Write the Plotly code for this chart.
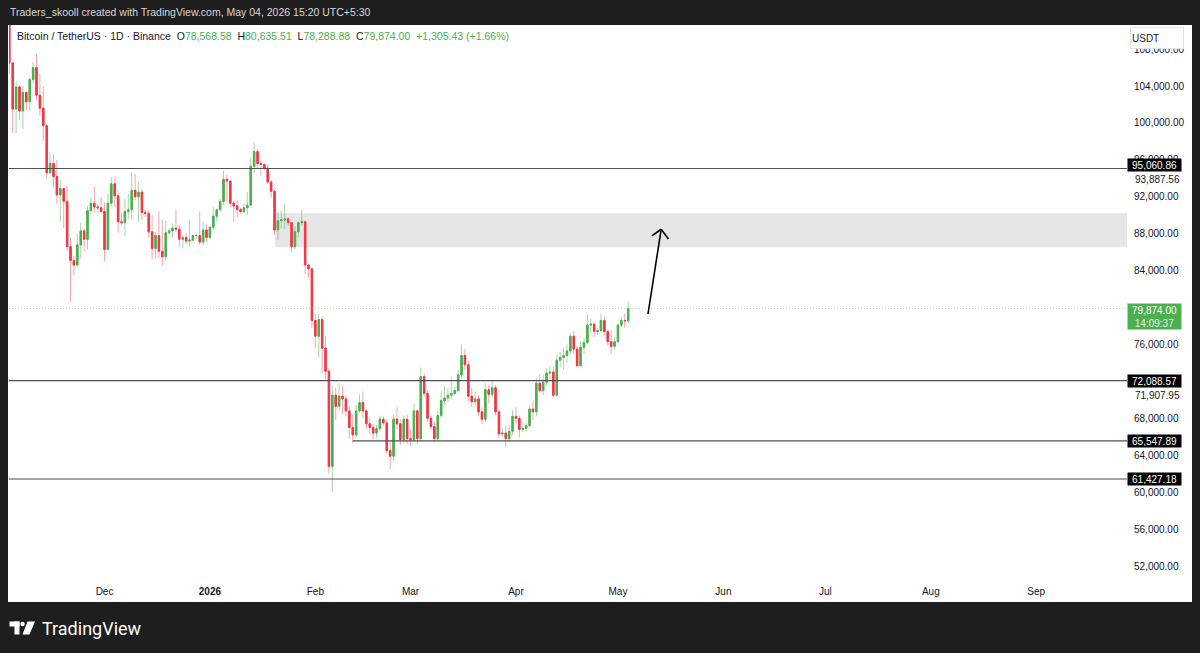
import plotly.graph_objects as go
import pandas as pd

# ---------------- data (BTC/USDT daily, values in thousands of USDT) ----------------
START_DATE = "2025-11-03"
FIRST_OPEN_K = 110.6

CLOSE_K = [
    # Nov 3 - Nov 30
    106.5, 101.5, 103.9, 101.3, 103.3, 102.3, 104.7, 106.0, 103.0, 101.6, 99.7, 94.6, 95.6, 94.2,
    92.2, 92.9, 91.5, 86.6, 85.1, 84.6, 86.8, 88.3, 87.4, 90.5, 91.3, 90.9, 90.8, 90.4,
    # Dec
    86.3, 91.3, 93.4, 92.1, 89.3, 89.2, 90.4, 90.6, 92.7, 92.0, 92.5, 90.3, 90.2, 88.2, 86.4, 87.8,
    86.1, 85.5, 88.1, 88.3, 88.6, 88.5, 87.4, 87.6, 87.2, 87.3, 87.8, 87.8, 87.1, 88.4, 87.6,
    # Jan
    88.7, 89.9, 90.6, 91.5, 93.9, 93.7, 91.3, 91.0, 90.6, 90.4, 90.8, 91.1, 95.3, 96.9, 95.6, 95.5,
    95.1, 93.6, 92.6, 88.4, 89.4, 89.5, 89.6, 89.2, 86.6, 88.2, 89.2, 89.3, 84.6, 84.2, 78.6,
    # Feb
    76.9, 78.7, 75.6, 73.1, 62.8, 70.5, 69.3, 70.4, 70.1, 68.8, 67.0, 66.2, 68.8, 69.7,
    68.8, 67.4, 67.0, 66.4, 66.9, 67.9, 67.5, 64.5, 63.9, 67.9, 67.4, 65.7, 67.9, 65.8,
    # Mar
    65.7, 68.8, 65.8, 72.5, 70.7, 68.0, 67.1, 65.8, 68.3, 69.9, 70.2, 70.5, 70.7, 71.0, 72.7, 74.8,
    73.8, 70.4, 69.8, 70.1, 68.7, 67.9, 71.1, 70.6, 71.3, 68.7, 66.3, 66.4, 65.8, 66.6, 68.2,
    # Apr
    68.0, 66.8, 66.9, 67.2, 69.0, 68.7, 71.8, 71.0, 71.9, 72.9, 73.0, 70.5, 74.3, 74.6, 74.8,
    75.3, 76.9, 75.5, 73.7, 75.7, 76.2, 78.1, 78.2, 77.4, 77.5, 78.6, 77.4, 76.3, 75.8, 76.3,
    # May 1 - May 4
    78.1, 78.6, 78.56858, 79.874,
]

HIGH_K = [
    110.8, 106.6, 104.5, 104.1, 104.0, 103.4, 105.0, 106.6, 107.5, 105.3, 104.0, 99.9, 96.8, 96.6,
    96.0, 93.8, 92.9, 93.2, 87.5, 85.6, 88.0, 89.2, 88.5, 91.0, 91.9, 93.1, 91.2, 92.0,
    91.4, 92.3, 94.1, 94.1, 92.7, 90.3, 91.8, 92.3, 94.6, 94.5, 93.6, 92.8, 90.6, 90.5, 90.0, 88.2,
    90.4, 89.5, 89.4, 88.6, 89.1, 90.6, 88.9, 87.9, 88.0, 89.5, 87.9, 88.0, 90.4, 89.3, 89.0,
    88.8, 90.9, 90.7, 91.8, 94.8, 94.4, 93.6, 91.5, 91.6, 90.8, 91.3, 92.5, 96.2, 97.9, 97.2, 95.9,
    95.6, 95.5, 93.8, 92.8, 90.4, 90.5, 91.2, 89.8, 89.2, 88.8, 89.3, 90.6, 89.3, 84.7, 84.2,
    79.3, 79.3, 79.0, 76.9, 73.4, 71.5, 71.3, 71.8, 71.5, 70.5, 69.3, 68.4, 69.4, 70.6,
    70.9, 69.0, 68.0, 67.4, 67.3, 68.3, 68.2, 67.9, 65.6, 68.4, 69.2, 67.9, 68.3, 68.4,
    66.8, 69.6, 69.0, 73.5, 72.9, 71.0, 68.3, 67.6, 68.8, 71.0, 71.5, 71.3, 72.5, 71.4, 73.2, 76.0,
    75.5, 74.2, 71.3, 70.9, 70.5, 69.2, 71.8, 71.6, 72.0, 71.6, 69.0, 67.0, 67.2, 67.3, 68.9,
    69.2, 68.3, 67.6, 67.5, 69.3, 69.9, 72.3, 72.8, 72.7, 73.4, 73.6, 73.6, 74.8, 75.2, 75.6,
    76.0, 77.3, 77.5, 75.9, 76.3, 76.7, 79.3, 78.8, 78.3, 77.8, 79.3, 79.0, 77.6, 77.5, 76.8,
    78.3, 78.9, 79.3, 80.63551,
]

LOW_K = [
    105.3, 98.9, 98.9, 100.3, 99.3, 101.4, 101.3, 104.3, 102.5, 100.8, 98.0, 94.0, 94.6, 93.0,
    91.2, 89.3, 88.6, 86.1, 80.6, 83.5, 84.7, 85.3, 86.1, 86.3, 90.1, 90.2, 90.3, 90.3,
    85.0, 86.2, 91.0, 90.9, 88.1, 88.9, 87.7, 89.6, 89.5, 91.6, 89.3, 89.5, 89.8, 87.6, 85.2, 85.3,
    85.3, 84.5, 85.1, 87.9, 87.6, 88.1, 86.6, 86.4, 86.9, 86.6, 87.3, 87.4, 86.8, 86.8, 87.1,
    87.4, 88.4, 89.3, 90.5, 91.1, 91.3, 90.9, 89.3, 89.8, 90.2, 90.2, 90.0, 91.0, 94.6, 95.0, 94.3,
    94.9, 93.4, 91.9, 87.9, 87.3, 88.6, 88.5, 88.8, 86.0, 86.3, 87.6, 88.9, 83.6, 83.3, 77.8,
    75.6, 74.6, 72.9, 72.2, 62.0, 60.0, 67.8, 68.9, 68.5, 68.2, 65.8, 65.3, 65.9, 68.6,
    68.0, 66.8, 66.3, 65.7, 65.9, 66.6, 67.2, 64.2, 62.5, 63.3, 66.8, 65.1, 65.3, 65.2,
    65.0, 65.4, 65.2, 65.6, 70.3, 67.6, 66.8, 65.4, 65.6, 68.0, 69.4, 69.8, 70.1, 70.5, 70.8, 72.4,
    73.2, 69.8, 69.2, 69.3, 68.2, 67.4, 67.6, 69.6, 70.3, 68.3, 65.9, 65.9, 64.9, 65.4, 66.2,
    67.4, 65.9, 66.5, 66.6, 67.0, 67.8, 68.2, 70.8, 70.5, 71.5, 72.3, 70.3, 70.3, 73.5, 73.3,
    74.0, 74.9, 75.0, 73.5, 73.6, 75.0, 76.0, 77.2, 76.8, 77.0, 77.3, 76.9, 75.9, 75.0, 75.4,
    76.2, 77.9, 77.8, 78.28888,
]

TICK_PRICES = [52000, 56000, 60000, 64000, 68000, 76000, 84000, 88000, 92000, 96000,
               100000, 104000, 108000]
MONTH_TICKS = ["2025-12-01", "2026-01-01", "2026-02-01", "2026-03-01", "2026-04-01",
               "2026-05-01", "2026-06-01", "2026-07-01", "2026-08-01", "2026-09-01"]
MONTH_LABELS = ["Dec", "<b>2026</b>", "Feb", "Mar", "Apr", "May", "Jun", "Jul", "Aug", "Sep"]

LEVELS = [95060.86, 72088.57, 65547.89, 61427.18]
LEVEL_STARTS = [None, None, "2026-02-12", None]
LEVEL_SHIFTS = [4, 0, 0, 0]
SIDE_MARKS = [93887.56, 71907.95]
SIDE_SHIFTS = [0, -13]
LAST_PRICE = 79874.00
COUNTDOWN = "14:09:37"
ZONE_START, ZONE_LOW, ZONE_HIGH = "2026-01-20 04:00", 86530, 90210
ARROW_FROM = ("2026-05-09 20:00", 79300)
ARROW_TO = ("2026-05-13 17:00", 88480)

X_RANGE = ["2025-11-02 21:50", "2026-09-27 16:48"]
Y_RANGE = [50808, 110608]

HEADER = "Traders_skooll created with TradingView.com, May 04, 2026 15:20 UTC+5:30"
SYMBOL = "Bitcoin / TetherUS · 1D · Binance"
OHLC_TEXT = [("O", "78,568.58"), ("H", "80,635.51"), ("L", "78,288.88"), ("C", "79,874.00")]
CHANGE_TEXT = "+1,305.43 (+1.66%)"

# ---------------- build ----------------
UP, DN = "#4caf50", "#f23645"
UP_W, DN_W = "rgba(76,175,80,0.5)", "rgba(242,54,69,0.45)"
TXT = "#131722"
FONT = "Liberation Sans, Arial, sans-serif"

dates = pd.date_range(START_DATE, periods=len(CLOSE_K), freq="D")
close = [v * 1000 for v in CLOSE_K]
high = [v * 1000 for v in HIGH_K]
low = [v * 1000 for v in LOW_K]
opn = [FIRST_OPEN_K * 1000] + close[:-1]
body_hi = [max(o, c) for o, c in zip(opn, close)]
body_lo = [min(o, c) for o, c in zip(opn, close)]

W, H = 1200, 653
L, R, T, B = 9, 1127, 25, 577


def fx(px):
    return (px - L) / (R - L)


def fy(py):
    return (B - py) / (B - T)


fig = go.Figure()
fig.add_trace(go.Candlestick(
    x=dates, open=opn, high=high, low=low, close=close, whiskerwidth=0,
    increasing=dict(line=dict(color=UP_W, width=1), fillcolor=UP_W),
    decreasing=dict(line=dict(color=DN_W, width=1), fillcolor=DN_W),
    hoverinfo="skip", showlegend=False))
fig.add_trace(go.Candlestick(
    x=dates, open=opn, high=body_hi, low=body_lo, close=close, whiskerwidth=0,
    increasing=dict(line=dict(color=UP, width=1), fillcolor=UP),
    decreasing=dict(line=dict(color=DN, width=1), fillcolor=DN),
    hoverinfo="skip", showlegend=False))

shapes = []
# white chart panel
shapes.append(dict(type="rect", xref="paper", yref="paper", x0=fx(8), x1=fx(1192),
                   y0=fy(602), y1=fy(25), fillcolor="white", line=dict(width=0), layer="below"))
# grey zone
shapes.append(dict(type="rect", xref="x", yref="y", x0=ZONE_START, x1=X_RANGE[1],
                   y0=ZONE_LOW, y1=ZONE_HIGH, fillcolor="#e6e6e6", line=dict(width=0),
                   layer="below"))
# horizontal levels
for lv, st in zip(LEVELS, LEVEL_STARTS):
    shapes.append(dict(type="line", xref="x", yref="y", x0=st or X_RANGE[0], x1=X_RANGE[1],
                       y0=lv, y1=lv, line=dict(color="#505050", width=1.2)))
# last price dotted line
shapes.append(dict(type="line", xref="x", yref="y", x0=X_RANGE[0], x1=X_RANGE[1],
                   y0=LAST_PRICE, y1=LAST_PRICE,
                   line=dict(color="rgba(76,175,80,0.55)", width=1, dash="1px,2px")))
# arrow
shapes.append(dict(type="line", xref="x", yref="y", x0=ARROW_FROM[0], y0=ARROW_FROM[1],
                   x1=ARROW_TO[0], y1=ARROW_TO[1], line=dict(color="black", width=1.6)))
for dx, dy in [(-9.3, -6.7), (7.3, -9.7)]:
    shapes.append(dict(type="line", xref="x", yref="y", xsizemode="pixel", ysizemode="pixel",
                       xanchor=ARROW_TO[0], yanchor=ARROW_TO[1], x0=0, y0=0, x1=dx, y1=dy,
                       line=dict(color="black", width=1.6)))
# TradingView logo (footer)
shapes.append(dict(type="rect", xref="paper", yref="paper", x0=fx(9.5), x1=fx(19.5),
                   y0=fy(626.5), y1=fy(621.5), fillcolor="white", line=dict(width=0)))
shapes.append(dict(type="rect", xref="paper", yref="paper", x0=fx(14.5), x1=fx(19.5),
                   y0=fy(634.5), y1=fy(621.5), fillcolor="white", line=dict(width=0)))
shapes.append(dict(type="circle", xref="paper", yref="paper", x0=fx(20.3), x1=fx(24.8),
                   y0=fy(626.3), y1=fy(621.8), fillcolor="white", line=dict(width=0)))
shapes.append(dict(type="path", xref="paper", yref="paper",
                   path=f"M {fx(27.5)} {fy(621.5)} L {fx(35)} {fy(621.5)} L {fx(29.5)} {fy(634.5)} "
                        f"L {fx(22.5)} {fy(634.5)} Z",
                   fillcolor="white", line=dict(width=0)))

ann = []
ann.append(dict(xref="paper", yref="paper", x=fx(8), y=fy(12.5), xanchor="left", yanchor="middle",
                text=HEADER, showarrow=False, font=dict(family=FONT, size=10.5, color="#d8d8d8")))
legend = SYMBOL + "&nbsp;&nbsp;" + "&nbsp;&nbsp;".join(
    f"{k}<span style='color:{UP}'>{v}</span>" for k, v in OHLC_TEXT) + \
    f"&nbsp;&nbsp;<span style='color:{UP}'>{CHANGE_TEXT}</span>"
ann.append(dict(xref="paper", yref="paper", x=fx(15), y=fy(36), xanchor="left", yanchor="middle",
                text=legend, showarrow=False, font=dict(family=FONT, size=10.5, color=TXT)))
ann.append(dict(xref="paper", yref="paper", x=fx(40), y=fy(628), xanchor="left", yanchor="middle",
                text="TradingView", showarrow=False,
                font=dict(family="Roboto, " + FONT, size=18, color="white")))
# USDT box
ann.append(dict(xref="paper", yref="paper", x=fx(1130), y=fy(27), xanchor="left", yanchor="top",
                text="USDT", showarrow=False, align="left", width=50, height=18, borderpad=1,
                bgcolor="white", bordercolor="#e0e3eb", borderwidth=1,
                font=dict(family=FONT, size=10, color=TXT)))
# plain side marks
for p, sh in zip(SIDE_MARKS, SIDE_SHIFTS):
    ann.append(dict(xref="paper", yref="y", x=fx(1133), y=p, yshift=sh, xanchor="left",
                    yanchor="middle", text=f"{p:,.2f}", showarrow=False,
                    font=dict(family=FONT, size=10, color=TXT)))
# level labels
for lv, sh in zip(LEVELS, LEVEL_SHIFTS):
    ann.append(dict(xref="paper", yref="y", x=1.0, y=lv, yshift=sh, xanchor="left",
                    yanchor="middle", text=f"{lv:,.2f}", showarrow=False, width=51, height=10,
                    borderpad=1, bgcolor="black", font=dict(family=FONT, size=10, color="white")))
# last price label
ann.append(dict(xref="paper", yref="y", x=1.0, y=LAST_PRICE, yshift=6, xanchor="left",
                yanchor="top",
                text=f"{LAST_PRICE:,.2f}<br><span style='color:#e3f5e4'>{COUNTDOWN}</span>",
                showarrow=False, width=51, height=23, borderpad=1, bgcolor=UP,
                font=dict(family=FONT, size=10, color="white")))

fig.update_layout(
    width=W, height=H, margin=dict(l=L, r=W - R, t=T, b=H - B),
    paper_bgcolor="#1e1e1e", plot_bgcolor="white", showlegend=False,
    boxgap=0.4, shapes=shapes, annotations=ann, hovermode=False,
    xaxis=dict(type="date", range=X_RANGE, rangeslider=dict(visible=False),
               tickvals=MONTH_TICKS, ticktext=MONTH_LABELS, showgrid=False, zeroline=False,
               showline=False, ticks="", ticklabelstandoff=7,
               tickfont=dict(family=FONT, size=10, color=TXT)),
    yaxis=dict(range=Y_RANGE, side="right", tickvals=TICK_PRICES,
               ticktext=[f"{v:,.2f}" for v in TICK_PRICES], showgrid=False, zeroline=False,
               showline=False, ticks="", ticklabelstandoff=6,
               tickfont=dict(family=FONT, size=10, color=TXT)),
)

fig.write_html("out.html")
